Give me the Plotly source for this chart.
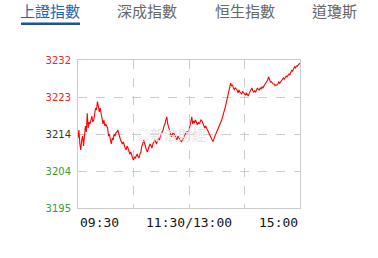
import plotly.graph_objects as go

tabs = ["上證指數", "深成指數", "恒生指數", "道瓊斯"]
x_labels = ["09:30", "11:30/13:00", "15:00"]
y_ticks = ["3195", "3204", "3214", "3223", "3232"]
y_min, y_max = 3195.0, 3232.0

prices = [
    3212.5, 3214.5, 3211.0, 3209.5, 3212.0, 3213.0, 3210.5, 3213.0, 3215.5, 3214.0,
    3218.7, 3215.0, 3216.5, 3216.0, 3217.5, 3218.0, 3216.5, 3217.0, 3218.5, 3220.0,
    3219.5, 3221.6, 3220.5, 3219.0, 3220.0, 3218.5, 3217.5, 3216.0, 3217.0, 3215.5,
    3216.0, 3215.5, 3215.0, 3213.0, 3213.5, 3212.0, 3211.0, 3212.5, 3212.0, 3213.5,
    3213.0, 3213.8, 3214.0, 3214.5, 3213.5, 3212.5, 3212.0, 3211.5, 3211.0, 3211.5,
    3210.5, 3210.0, 3209.5, 3210.5, 3210.0, 3209.0, 3208.5, 3209.0, 3208.0, 3207.5,
    3207.0, 3207.8, 3207.5, 3208.0, 3208.5, 3207.8, 3207.5, 3208.5, 3209.0, 3210.5,
    3211.0, 3212.0, 3211.0, 3210.0, 3209.5, 3209.0, 3210.0, 3210.5, 3211.0, 3210.5,
    3210.0, 3211.0, 3211.5, 3212.0, 3211.5, 3211.0, 3212.0, 3212.5, 3212.0, 3213.0,
    3213.5, 3214.0, 3214.5, 3215.5, 3216.0, 3217.0, 3217.8, 3216.0, 3215.0, 3214.0,
    3213.5, 3212.8, 3213.5, 3214.0, 3213.5, 3213.0, 3212.5, 3212.0, 3213.0, 3212.5,
    3212.0, 3211.8, 3211.6, 3212.2, 3212.5, 3213.0, 3213.5, 3214.0, 3213.8, 3214.2,
    3214.5,
    3215.5, 3216.5, 3217.8, 3216.0, 3216.8, 3216.2, 3217.0, 3216.5, 3215.8, 3216.4,
    3216.0, 3216.5, 3217.0, 3216.8, 3216.0, 3215.5, 3215.0, 3215.5, 3214.8, 3214.5,
    3214.0, 3213.5, 3212.8, 3212.5, 3212.0, 3211.6, 3212.5, 3213.0, 3213.5, 3214.0,
    3214.5, 3215.0, 3215.5, 3216.0, 3216.8, 3217.5, 3218.7, 3219.2, 3220.0, 3221.0,
    3221.5, 3223.2, 3224.0, 3225.0, 3226.2, 3225.5, 3225.8, 3225.0, 3224.6, 3225.0,
    3224.8, 3224.5, 3223.8, 3224.5, 3224.0, 3223.6, 3223.5, 3224.2, 3223.8, 3223.5,
    3223.2, 3223.8, 3223.4, 3223.0, 3223.6, 3224.0, 3224.5, 3225.0, 3224.4, 3224.0,
    3224.3, 3224.0, 3224.5, 3225.0, 3224.6, 3224.5, 3225.0, 3224.8, 3225.3, 3225.0,
    3225.5, 3225.8, 3226.2, 3226.6, 3227.0, 3227.8, 3227.0, 3226.5, 3226.6, 3226.2,
    3226.0, 3226.0, 3225.6, 3225.8, 3225.7, 3226.0, 3226.5, 3226.2, 3226.6, 3227.0,
    3227.2, 3227.5, 3227.2, 3227.6, 3228.0, 3227.8, 3228.2, 3228.5, 3228.3, 3229.0,
    3229.4, 3229.2, 3229.8, 3230.3, 3230.0, 3230.5, 3230.4, 3230.8, 3231.0, 3231.2,
]
minutes = list(range(len(prices)))
n_min = len(prices) - 1

RED = "#e8262b"
GREEN = "#3d9b35"
DARK = "#333333"
tick_colors = [GREEN, GREEN, DARK, RED, RED]
step = (y_max - y_min) / (len(y_ticks) - 1)
tickvals = [y_min + i * step for i in range(len(y_ticks))]
ticktext = [f"<span style='color:{c}'>{t}</span>" for t, c in zip(y_ticks, tick_colors)]

W, H = 378, 258
L, R, T, B = 78, 78, 60, 50
PW, PH = W - L - R, H - T - B


def px(x):
    return (x - L) / PW


def py(y):
    return (H - B - y) / PH


fig = go.Figure()
fig.add_trace(go.Scatter(x=minutes, y=prices, mode="lines",
                         line=dict(color="#ff0000", width=1.1), hoverinfo="skip"))

fig.update_layout(
    width=W, height=H,
    margin=dict(l=L, r=R, t=T, b=B),
    paper_bgcolor="white", plot_bgcolor="white",
    showlegend=False,
    font=dict(family="DejaVu Sans", size=10),
    xaxis=dict(range=[0, n_min], tickvals=[n_min / 4, n_min / 2, 3 * n_min / 4],
               showticklabels=False, showgrid=True, gridcolor="#cccccc",
               griddash="dash", gridwidth=1, zeroline=False,
               showline=True, linecolor="#cccccc", mirror=True, ticks=""),
    yaxis=dict(range=[y_min, y_max], tickvals=tickvals, ticktext=ticktext,
               showgrid=True, gridcolor="#cccccc", griddash="dash", gridwidth=1,
               zeroline=False, showline=True, linecolor="#cccccc", mirror=True,
               ticks="", ticklabelstandoff=4,
               tickfont=dict(family="DejaVu Sans", size=10)),
)

# x labels
for val, lab, anc in zip([0, n_min / 2, n_min], x_labels, ["left", "center", "right"]):
    fig.add_annotation(x=val, y=0, xref="x", yref="paper", yshift=-14, text=lab,
                       showarrow=False, xanchor=anc, yanchor="middle",
                       font=dict(family="DejaVu Sans Mono", size=13, color="#111111"))

# tabs
tab_x = [50, 147, 245, 334]
for i, (t, xc) in enumerate(zip(tabs, tab_x)):
    fig.add_annotation(x=px(xc), y=py(11), xref="paper", yref="paper", text=t,
                       showarrow=False, xanchor="center", yanchor="middle",
                       borderpad=0,
                       font=dict(family="Noto Sans CJK TC", size=15,
                                 color="#1f65ad" if i == 0 else "#666666"))
fig.add_shape(type="rect", xref="paper", yref="paper",
              x0=px(21), x1=px(80), y0=py(25), y1=py(22.5),
              fillcolor="#1d5592", line=dict(width=0), layer="above")

# watermark
fig.add_annotation(x=n_min * 0.42, y=3213.5, xref="x", yref="y", text="◎新浪財經",
                   showarrow=False,
                   font=dict(family="Noto Sans CJK TC", size=14, color="#e4e4e4"))

fig.write_html("out.html")
